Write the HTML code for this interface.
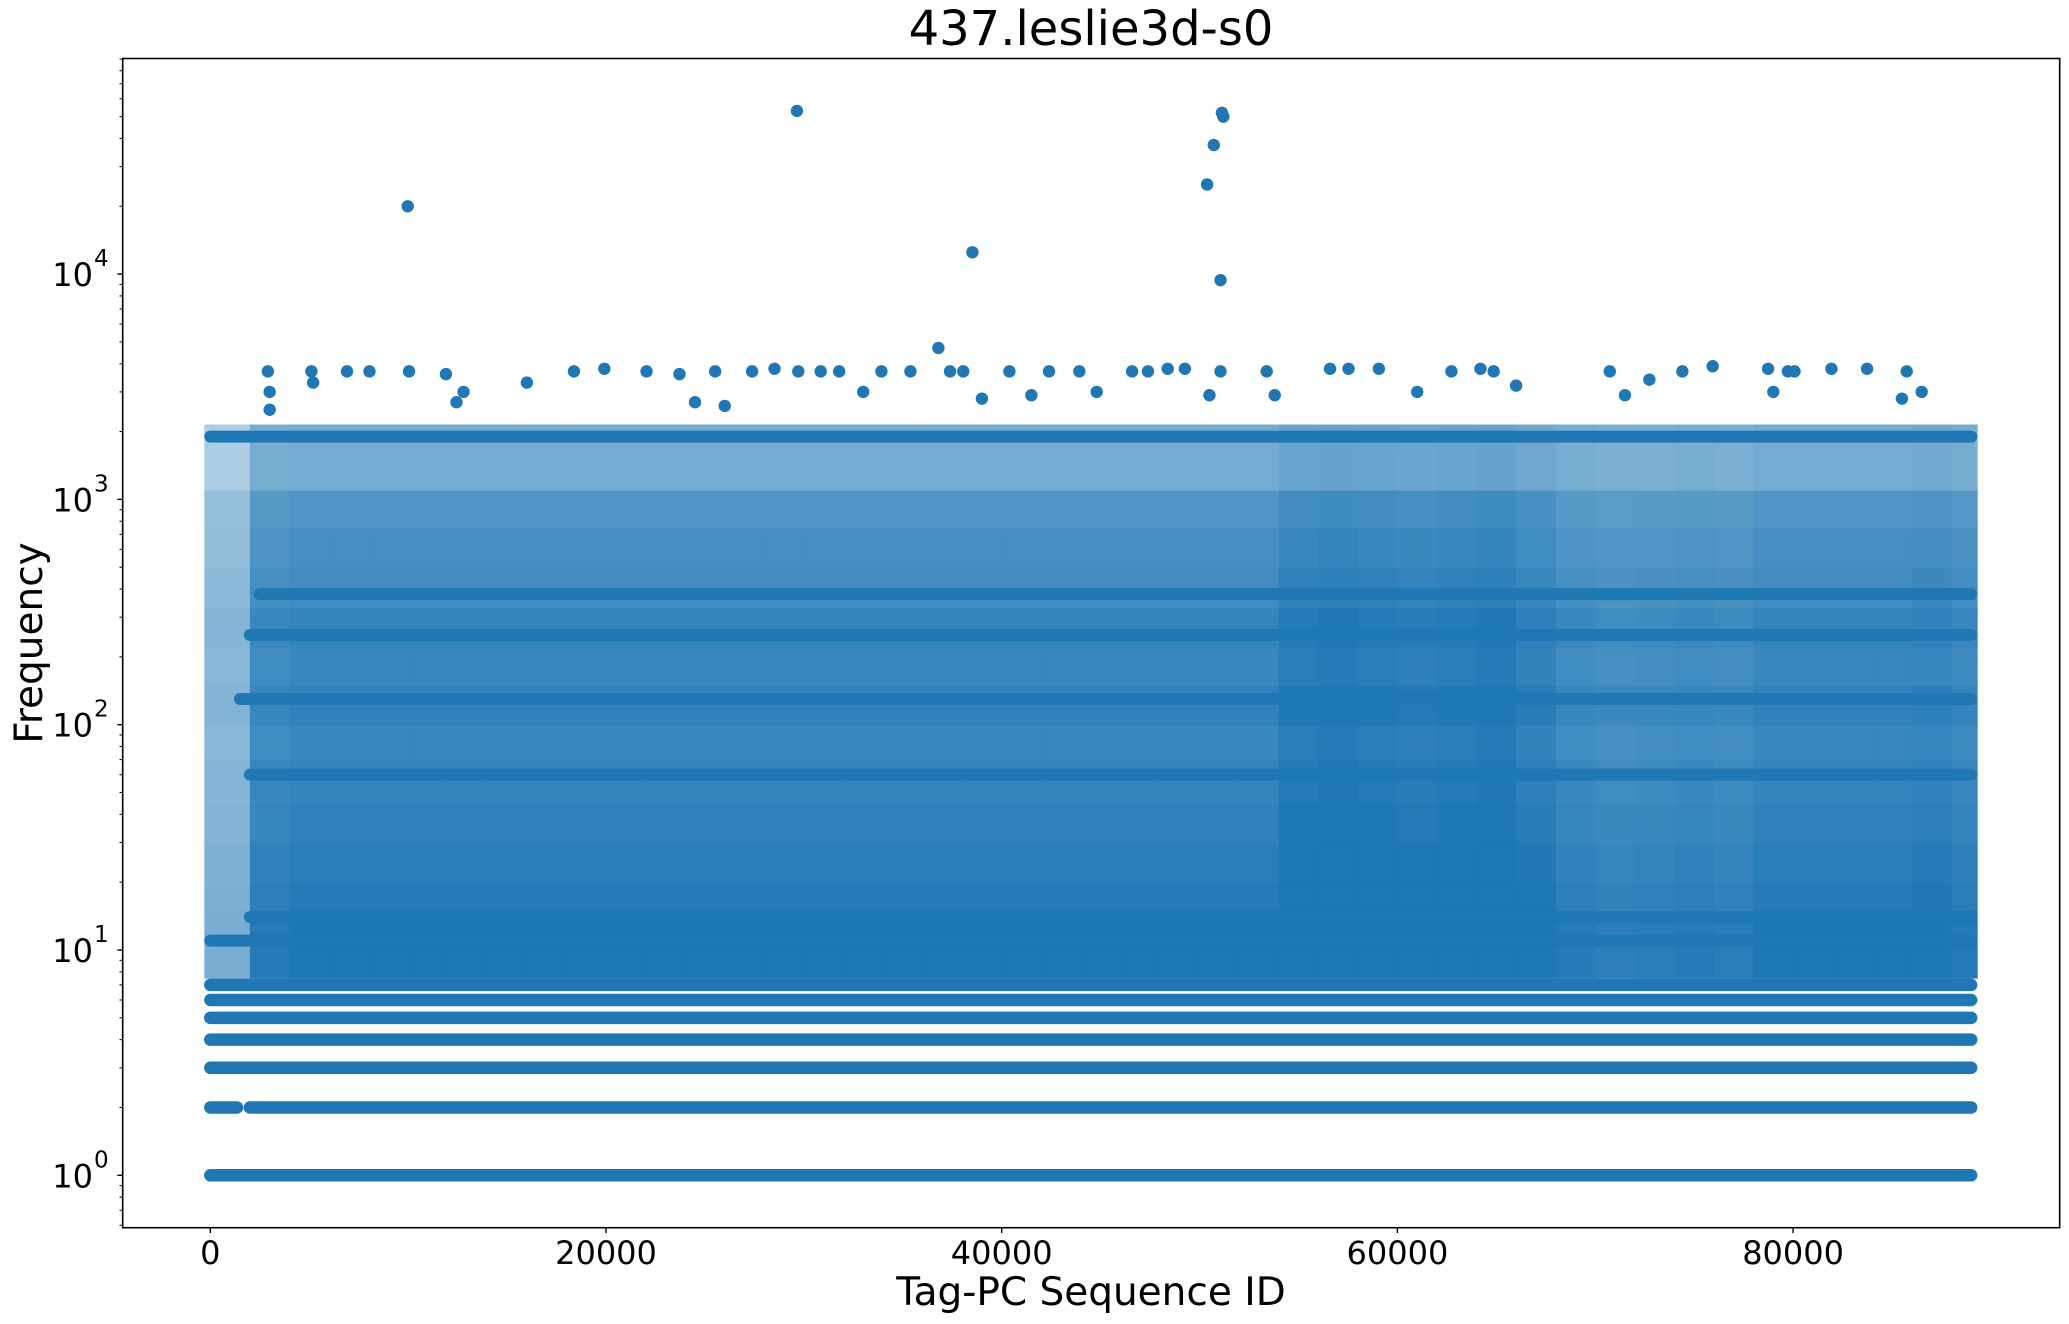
<!DOCTYPE html>
<html><head><meta charset="utf-8"><style>
html,body{margin:0;padding:0;background:#fff;}
svg{display:block;font-family:"DejaVu Sans","Liberation Sans",sans-serif;}
</style></head><body>
<svg id="chart" width="2069" height="1324" viewBox="0 0 2069 1324" xmlns="http://www.w3.org/2000/svg">
<rect width="2069" height="1324" fill="#fff"/>
<defs><clipPath id="plotclip"><rect x="122.7" y="58.5" width="1937" height="1169.2"/></clipPath></defs>
<text x="1091" y="45" font-size="48" text-anchor="middle">437.leslie3d-s0</text>
<g id="marks" clip-path="url(#plotclip)"></g>
<rect x="122.7" y="58.5" width="1937" height="1169.2" fill="none" stroke="#000" stroke-width="1.6"/>
<g id="xticks"></g>
<g id="yticks"></g>
<text x="1091" y="1305" font-size="39" text-anchor="middle">Tag-PC Sequence ID</text>
<text x="0" y="0" font-size="39" text-anchor="middle" transform="translate(42,643) rotate(-90)">Frequency</text>
</svg>
<script>
// ---- data ----
const xTicks = [0, 20000, 40000, 60000, 80000];
const xTickLabels = ["0", "20000", "40000", "60000", "80000"];
const yDecades = [0, 1, 2, 3, 4];
// dense discrete frequency rows
const rowLevels = [1, 2, 3, 4, 5, 6, 7];
const rowStarts = [[0], [0, 2000], [0], [0], [0], [0], [0]];
const rowEnds = [[89000], [1350, 89000], [89000], [89000], [89000], [89000], [89000]];
// denser horizontal bands inside the cloud
const bandValues = [11, 14, 60, 130, 250, 380, 1900];
const bandStarts = [0, 2000, 2000, 1500, 2000, 2500, 0];
const bandEnds = [89000, 89000, 89000, 89000, 89000, 89000, 89000];
// cloud coverage: frequency bins (edges) and per-bin coverage
const cloudEdges = [7.5, 11, 15, 20, 30, 45, 70, 100, 150, 220, 330, 500, 750, 1100, 1600, 2150];
const cloudCoverage = [1.0, 1.0, 0.97, 0.95, 0.92, 0.9, 0.88, 0.92, 0.88, 0.9, 0.85, 0.82, 0.78, 0.62, 0.62];
// column multipliers, one per 2000 ids
const colStep = 2000;
const colFactor = [0.6,0.97,1,1,1,1,1,1,1,1,1,1,1,1,1,1,1,1,1,1,1,1,1,1,1,1,1,1.08,1.1,1.08,1.06,1.08,1.1,1.04,0.97,0.94,0.95,0.97,0.95,1,1,1,1,1.02,0.98];
// sparse high outliers
const outX = [9978, 29650, 38520, 50380, 50720, 51130, 51200, 51060, 36800,
  2909,5110,6910,8044,10045,11912,12446,18381,19915,22049,23716,25517,27384,28518,29718,30852,31786,33920,35387,37388,38055,40389,42390,43924,46591,47392,48392,49259,51060,53394,56595,57529,59063,62731,64198,64865,70734,72735,74402,75936,78737,79738,80071,81939,83740,85741,
  3000,3000,5200,12800,16000,24500,26000,33000,39000,41500,44800,50500,53800,61000,66000,71500,79000,85500,86500];
const outY = [20000, 53000, 12500, 25000, 37400, 52000, 50000, 9400, 4700,
  3700,3700,3700,3700,3700,3600,2700,3700,3800,3700,3600,3700,3700,3800,3700,3700,3700,3700,3700,3700,3700,3700,3700,3700,3700,3700,3800,3800,3700,3700,3800,3800,3800,3700,3800,3700,3700,3400,3700,3900,3800,3700,3700,3800,3800,3700,
  3000,2500,3300,3000,3300,2700,2600,3000,2800,2900,3000,2900,2900,3000,3200,2900,3000,2800,3000];

// ---- axis functions ----
const X0 = 210.3, XS = 0.019785;
const Y0 = 1175.3, YD = 225.3;
const xs = v => X0 + v * XS;
const ys = v => Y0 - YD * Math.log10(v);
const NS = "http://www.w3.org/2000/svg";
const BLUE = "#1f77b4";
const marks = document.getElementById("marks");
function mk(tag, attrs, parent) {
  const e = document.createElementNS(NS, tag);
  for (const k in attrs) e.setAttribute(k, attrs[k]);
  parent.appendChild(e);
  return e;
}
function mix(c) {
  const r = Math.round(255 + (31 - 255) * c), g = Math.round(255 + (119 - 255) * c), b = Math.round(255 + (180 - 255) * c);
  return "rgb(" + r + "," + g + "," + b + ")";
}
// cloud cells
const nCols = colFactor.length;
for (let c = 0; c < nCols; c++) {
  const x0 = c * colStep, x1 = Math.min(89000, (c + 1) * colStep);
  const left = xs(x0) - (c === 0 ? 6 : 0);
  const right = xs(x1) + (c === nCols - 1 ? 6 : 0);
  for (let b = 0; b < cloudCoverage.length; b++) {
    const cov = Math.min(1, cloudCoverage[b] * colFactor[c]);
    const top = ys(cloudEdges[b + 1]), bot = ys(cloudEdges[b]);
    const r = mk("rect", {x: left, y: top, width: right - left + 0.5, height: bot - top + 0.5, fill: mix(cov)}, marks);
    
    
  }
}
// bands
for (let i = 0; i < bandValues.length; i++) {
  const l = mk("line", {x1: xs(bandStarts[i]), x2: xs(bandEnds[i]), y1: ys(bandValues[i]), y2: ys(bandValues[i]), stroke: BLUE, "stroke-width": 12, "stroke-linecap": "round"}, marks);
  
  
}
// discrete rows
for (let i = 0; i < rowLevels.length; i++) {
  for (let s = 0; s < rowStarts[i].length; s++) {
    const l = mk("line", {x1: xs(rowStarts[i][s]), x2: xs(rowEnds[i][s]), y1: ys(rowLevels[i]), y2: ys(rowLevels[i]), stroke: BLUE, "stroke-width": 12.5, "stroke-linecap": "round"}, marks);
    
    
  }
}
// outliers
for (let i = 0; i < outX.length; i++) {
  const p = mk("circle", {cx: xs(outX[i]), cy: ys(outY[i]), r: 6.2, fill: BLUE}, marks);
  
  
}
// x ticks
const xg = document.getElementById("xticks");
for (let i = 0; i < xTicks.length; i++) {
  const x = xs(xTicks[i]);
  const t = mk("line", {x1: x, x2: x, y1: 1227.7, y2: 1233, stroke: "#000", "stroke-width": 1.4}, xg);
  
  
  const tx = mk("text", {x: x, y: 1264, "font-size": 32, "text-anchor": "middle"}, xg);
  tx.textContent = xTickLabels[i];
  
  
}
// y ticks
const yg = document.getElementById("yticks");
for (let d = -1; d <= 4; d++) {
  for (let m = 1; m <= 9; m++) {
    const v = m * Math.pow(10, d);
    const y = ys(v);
    if (y < 58 || y > 1228) continue;
    const major = m === 1;
    const t = mk("line", {x1: 122.7 - (major ? 5.3 : 3.2), x2: 122.7, y1: y, y2: y, stroke: "#000", "stroke-width": major ? 1.4 : 1}, yg);
    
    
  }
}
for (let i = 0; i < yDecades.length; i++) {
  const y = ys(Math.pow(10, yDecades[i]));
  const tx = mk("text", {x: 93, y: y + 12, "font-size": 32, "text-anchor": "end"}, yg);
  tx.textContent = "10";
  
  
  const ex = mk("text", {x: 94, y: y - 8, "font-size": 23, "text-anchor": "start"}, yg);
  ex.textContent = String(yDecades[i]);
  
  
}
</script>
</body></html>
